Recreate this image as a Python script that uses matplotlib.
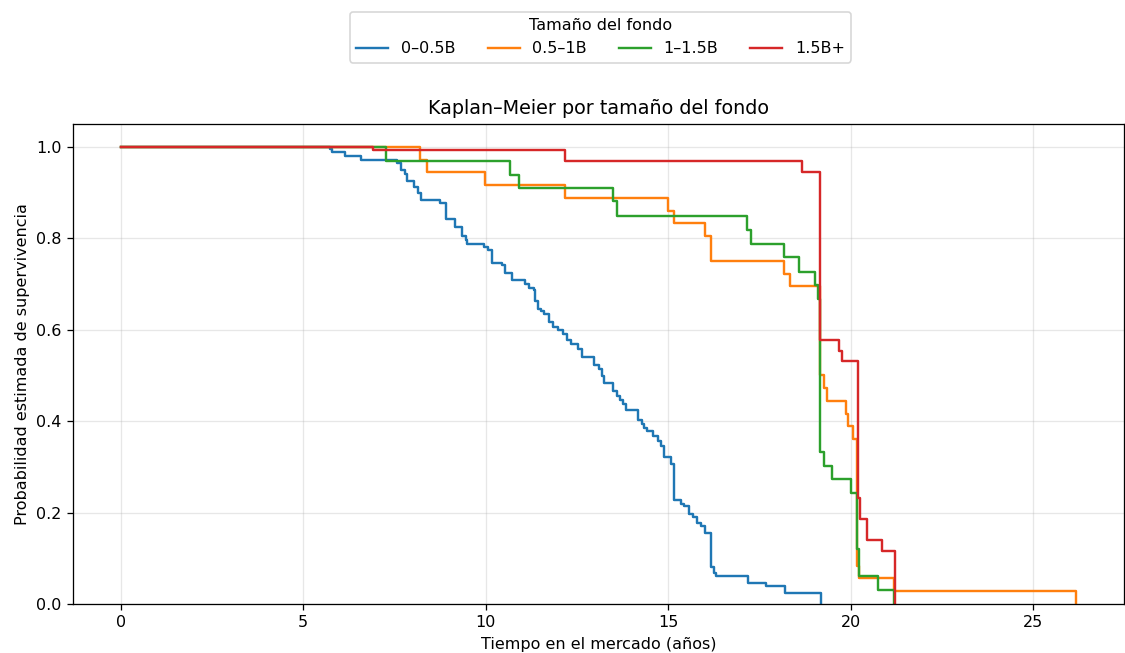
import matplotlib
matplotlib.use("Agg")
import matplotlib.pyplot as plt

# Kaplan-Meier step curves per fund size group: event times (years) and
# survival probability right after each time
grupos = ["0–0.5B", "0.5–1B", "1–1.5B", "1.5B+"]
colores = ["#1f77b4", "#ff7f0e", "#2ca02c", "#d62728"]

t_0_05 = [0.0, 5.74, 5.79, 6.14, 6.58, 7.58, 7.67, 7.79, 7.85, 8.03, 8.14, 8.22,
          8.76, 8.90, 9.15, 9.35, 9.45, 9.49, 9.95, 10.06, 10.17, 10.45, 10.52,
          10.72, 11.08, 11.19, 11.31, 11.34, 11.43, 11.52, 11.61, 11.74, 11.83,
          11.99, 12.13, 12.22, 12.34, 12.52, 12.65, 12.98, 13.11, 13.18, 13.25,
          13.50, 13.59, 13.68, 13.77, 13.84, 14.16, 14.27, 14.34, 14.43, 14.59,
          14.73, 14.80, 14.89, 15.09, 15.16, 15.35, 15.44, 15.57, 15.68, 15.80,
          15.91, 16.00, 16.17, 16.26, 16.32, 17.19, 17.69, 18.19, 19.19]
s_0_05 = [1.0, 0.995, 0.988, 0.980, 0.971, 0.964, 0.949, 0.940, 0.926, 0.913, 0.900, 0.884,
          0.878, 0.842, 0.825, 0.805, 0.796, 0.788, 0.781, 0.774, 0.746, 0.741, 0.723,
          0.709, 0.701, 0.692, 0.686, 0.662, 0.646, 0.640, 0.635, 0.616, 0.607,
          0.600, 0.591, 0.578, 0.569, 0.558, 0.540, 0.522, 0.515, 0.498, 0.483,
          0.467, 0.456, 0.447, 0.438, 0.424, 0.402, 0.393, 0.386, 0.378, 0.367,
          0.357, 0.345, 0.322, 0.307, 0.227, 0.218, 0.214, 0.198, 0.191, 0.178,
          0.170, 0.155, 0.082, 0.067, 0.061, 0.047, 0.039, 0.024, 0.0]

t_05_1 = [0.0, 8.21, 8.40, 9.97, 12.16, 15.00, 15.16, 16.02, 16.17, 18.16, 18.33,
          19.17, 19.28, 19.35, 19.87, 19.94, 20.05, 20.17, 20.24, 21.20, 26.18]
s_05_1 = [1.0, 0.971, 0.944, 0.917, 0.888, 0.860, 0.833, 0.804, 0.751, 0.722, 0.696,
          0.500, 0.473, 0.445, 0.416, 0.389, 0.362, 0.083, 0.056, 0.028, 0.0]

t_1_15 = [0.0, 7.26, 10.67, 10.92, 13.50, 13.59, 17.17, 17.27, 18.17, 18.58, 19.02,
          19.10, 19.17, 19.26, 19.49, 20.01, 20.17, 20.24, 20.76, 21.19]
s_1_15 = [1.0, 0.969, 0.939, 0.910, 0.881, 0.848, 0.818, 0.788, 0.758, 0.727, 0.697,
          0.667, 0.333, 0.303, 0.273, 0.242, 0.121, 0.061, 0.030, 0.0]

t_15 = [0.0, 6.91, 12.16, 18.67, 19.17, 19.69, 19.75, 20.19, 20.26, 20.45, 20.86, 21.21]
s_15 = [1.0, 0.993, 0.969, 0.946, 0.578, 0.553, 0.531, 0.231, 0.186, 0.139, 0.116, 0.0]

tiempos = [t_0_05, t_05_1, t_1_15, t_15]
superv = [s_0_05, s_05_1, s_1_15, s_15]

DPI = 115
fig = plt.figure(figsize=(1125 / DPI, 653 / DPI), dpi=DPI)
ax = fig.add_axes([0.0649, 0.0750, 0.9342, 0.7351])

for g, c, t, s in zip(grupos, colores, tiempos, superv):
    ax.step(t, s, where="post", color=c, linewidth=1.5, label=g)

ax.set_ylim(0, 1.05)
ax.set_title("Kaplan–Meier por tamaño del fondo", fontsize=12)
ax.set_xlabel("Tiempo en el mercado (años)")
ax.set_ylabel("Probabilidad estimada de supervivencia")
ax.grid(True, alpha=0.3)

handles, labels = ax.get_legend_handles_labels()
fig.legend(handles, labels, title="Tamaño del fondo", loc="upper center",
           bbox_to_anchor=(0.534, 0.994), ncol=4, frameon=True)

fig.savefig("out.png", dpi=DPI)
